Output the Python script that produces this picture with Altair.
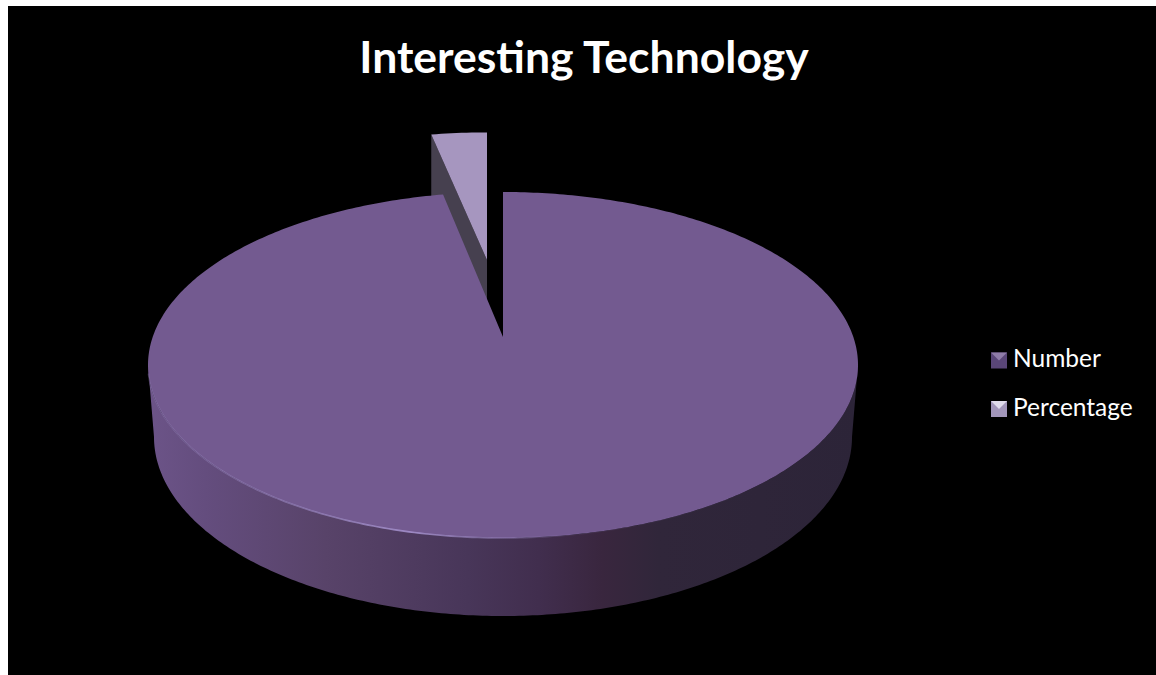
import altair as alt
import numpy as np
import pandas as pd

categories = ["Number", "Percentage"]
values = [97.3, 2.7]
legend_rows = [360.5, 409.0]
title_text = "Interesting Technology"

W, H = 1156, 675
FONT = "Lato"

# Top face and base outline of the tilted disc (pixel-domain scales below)
cx, cy, rx, ry = 503.0, 365.0, 355.0, 173.0
bcx, bcy, brx, bry = 503.0, 437.0, 349.0, 179.0
apex = (503.0, 337.0)
cut = 2 * np.pi * values[1] / sum(values)

x_scale = alt.Scale(domain=[0, W], nice=False, zero=False)
y_scale = alt.Scale(domain=[H, 0], nice=False, zero=False)
X = alt.X("x:Q", scale=x_scale, axis=None)
Y = alt.Y("y:Q", scale=y_scale, axis=None)


def rim(theta, c_x=cx, c_y=cy, r_x=rx, r_y=ry):
    return c_x + r_x * np.sin(theta), c_y - r_y * np.cos(theta)


def table(xs, ys):
    return pd.DataFrame({"x": xs, "y": ys, "i": np.arange(len(xs))})


def polygon(xs, ys, fill):
    return alt.Chart(table(xs, ys)).mark_line(
        fill=fill, strokeWidth=0, interpolate="linear", clip=False
    ).encode(x=X, y=Y, order=alt.Order("i:Q"))


# Black panel behind everything
panel = alt.Chart(pd.DataFrame({"x": [8], "x2": [W], "y": [6], "y2": [H]})).mark_rect(
    color="#000000"
).encode(x=X, x2="x2:Q", y=Y, y2="y2:Q")

# Curved wall of the disc, shaded from left to right
front = np.linspace(3 * np.pi / 2, np.pi / 2, 240)
wx, wy = rim(front)
bx, by = rim(front[::-1], bcx, bcy, brx, bry)
wall_fill = alt.Gradient(
    gradient="linear", x1=0, x2=1, y1=0, y2=0,
    stops=[
        alt.GradientStop(color="#6c5488", offset=0.0),
        alt.GradientStop(color="#644d7e", offset=0.08),
        alt.GradientStop(color="#584369", offset=0.25),
        alt.GradientStop(color="#483659", offset=0.45),
        alt.GradientStop(color="#412e4e", offset=0.55),
        alt.GradientStop(color="#39263e", offset=0.64),
        alt.GradientStop(color="#30263a", offset=0.72),
        alt.GradientStop(color="#2c2438", offset=1.0),
    ],
)
wall = polygon(np.r_[wx, bx], np.r_[wy, by], wall_fill)

# Pulled-out slice: wall first, then its lighter top
sx0, sy0 = 487.0, 260.0
t_small = np.linspace(-cut, 0, 12)
rsx, rsy = rim(t_small)
small_x = sx0 + 0.93 * (rsx - apex[0])
small_y = sy0 + 0.88 * (rsy - apex[1])
small_wall = polygon(
    [small_x[0], sx0, sx0, small_x[0]],
    [small_y[0], sy0, sy0 + 60, small_y[0] + 90],
    "#46404f",
)
small_top = polygon(np.r_[sx0, small_x], np.r_[sy0, small_y], "#a696bf")

# Main slice top face
t_big = np.linspace(0, 2 * np.pi - cut, 500)
tx, ty = rim(t_big)
big_top = polygon(np.r_[apex[0], tx], np.r_[apex[1], ty], "#735a90")

# Soft highlight along the near edge
hi = np.linspace(3 * np.pi / 2 - 0.05, 0.72 * np.pi, 160)
hx, hy = rim(hi)
highlight = alt.Chart(table(hx, hy)).mark_line(
    strokeWidth=1.6,
    stroke=alt.Gradient(
        gradient="linear", x1=0, x2=1, y1=0, y2=0,
        stops=[
            alt.GradientStop(color="rgba(150,130,190,0.3)", offset=0.0),
            alt.GradientStop(color="rgba(165,145,205,0.9)", offset=0.42),
            alt.GradientStop(color="rgba(150,130,190,0.1)", offset=0.68),
            alt.GradientStop(color="rgba(150,130,190,0.0)", offset=1.0),
        ],
    ),
).encode(x=X, y=Y, order=alt.Order("i:Q"))

# Title
title = alt.Chart(pd.DataFrame({"x": [584], "y": [73], "t": [title_text]})).mark_text(
    font=FONT, fontSize=44.5, fontWeight="bold", color="#ffffff", align="center", baseline="alphabetic"
).encode(x=X, y=Y, text="t:N")

# Legend: bevelled swatches with labels
legend = pd.DataFrame({
    "x": [999.0, 999.0], "y": legend_rows, "label": categories,
    "lx": [1013.0, 1013.0], "ly": [r + 6.5 for r in legend_rows],
})
swatch_base = alt.Chart(legend).mark_square(size=256, opacity=1, filled=True).encode(
    x=X, y=Y,
    fill=alt.Fill("label:N", scale=alt.Scale(domain=categories, range=["#5a4678", "#a296ba"]), legend=None),
)
swatch_top = alt.Chart(legend).mark_point(filled=True, opacity=1, size=256, shape="M-1,-1L1,-1L0,0Z").encode(
    x=X, y=Y,
    fill=alt.Fill("label:N", scale=alt.Scale(domain=categories, range=["#8f7ca8", "#e0dcec"]), legend=None),
)
labels = alt.Chart(legend).mark_text(
    font=FONT, fontSize=24.5, color="#ffffff", align="left", baseline="alphabetic"
).encode(x=alt.X("lx:Q", scale=x_scale, axis=None), y=alt.Y("ly:Q", scale=y_scale, axis=None), text="label:N")

chart = alt.layer(
    panel, wall, small_wall, small_top, big_top, highlight, title,
    swatch_base, swatch_top, labels,
).resolve_scale(fill="independent").properties(
    width=W, height=H, padding=0, autosize=alt.AutoSizeParams(type="none"), background="#ffffff",
).configure_view(stroke=None)

chart.save("out.html", embed_options={"renderer": "svg", "actions": False})
